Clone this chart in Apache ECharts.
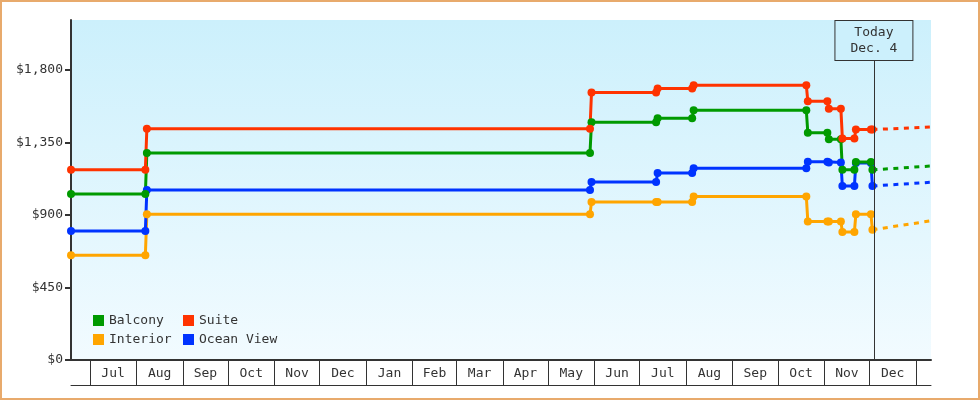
<!DOCTYPE html>
<html>
<head>
<meta charset="utf-8">
<script src="https://cdn.jsdelivr.net/npm/echarts@6/dist/echarts.min.js"></script>
<style>
html,body{margin:0;padding:0;background:#fff;}
#wrap{position:relative;width:980px;height:400px;}
#chart{width:980px;height:400px;}
#frame{position:absolute;left:0;top:0;width:980px;height:400px;box-sizing:border-box;border:2px solid #e8aa6c;pointer-events:none;}
</style>
</head>
<body>
<div id="wrap"><div id="chart"></div><div id="frame"></div></div>
<script>
// ---------- data ----------
const obsDates  = ['2023-06-18 12:00','2023-08-07','2023-08-08','2024-05-29','2024-05-30','2024-07-12','2024-07-13','2024-08-05','2024-08-06','2024-10-20','2024-10-21','2024-11-03','2024-11-04','2024-11-12','2024-11-13','2024-11-21','2024-11-22','2024-12-02','2024-12-03'];
const balcony   = [1030,1030,1285,1285,1475,1475,1500,1500,1550,1550,1410,1410,1370,1370,1180,1180,1228,1228,1180];
const suite     = [1180,1180,1435,1435,1660,1660,1685,1685,1705,1705,1605,1605,1560,1560,1375,1375,1430,1430,1430];
const interior  = [650,650,905,905,980,980,980,980,1015,1015,860,860,860,860,795,795,905,905,808];
const oceanView = [800,800,1055,1055,1105,1105,1160,1160,1190,1190,1230,1230,1225,1225,1080,1080,1222,1222,1080];

const projDate = '2025-01-11';
const projBalcony = 1204, projSuite = 1446, projInterior = 864, projOceanView = 1103;

const todayDate = '2024-12-04';
const todayLabel = 'Today\nDec. 4';

const monthNames = ['Jan','Feb','Mar','Apr','May','Jun','Jul','Aug','Sep','Oct','Nov','Dec'];
const yTicks = [0, 450, 900, 1350, 1800];
const xMin = '2023-06-18 12:00';
const xMax = '2025-01-11';
const yMax = 2110;

// ---------- helpers ----------
function ts(s){ const [d,t] = s.split(' '); const [y,m,dd] = d.split('-').map(Number); let h=0; if(t){h=Number(t.split(':')[0]);} return new Date(y,m-1,dd,h).getTime(); }
const xMinTs = ts(xMin), xMaxTs = ts(xMax);
const monthStarts = [], monthMids = [];
for (let i = 0; ; i++) {
  const t = new Date(2023, 6 + i, 1).getTime();
  if (t > xMaxTs) break;
  monthStarts.push(t);
  const n = new Date(2023, 7 + i, 1).getTime();
  if (n <= xMaxTs) monthMids.push((t + n) / 2);
}
const font = 'DejaVu Sans Mono';
const colors = {Balcony:'#009a00', Suite:'#ff3300', Interior:'#ffa500', 'Ocean View':'#0033ff'};

function mainSeries(name, vals){
  return {
    name, type:'line', data: obsDates.map((d,i)=>[ts(d), vals[i]]),
    symbol:'circle', symbolSize:8, showSymbol:true,
    lineStyle:{width:3, color:colors[name]}, itemStyle:{color:colors[name], borderWidth:0},
    emphasis:{disabled:true}, z:3
  };
}
function projSeries(name, vals, end){
  const last = vals.length-1;
  return {
    name: name + ' trend', type:'line',
    data: [[ts(obsDates[last]), vals[last]], [ts(projDate), end]],
    symbol:'none', lineStyle:{width:3, color:colors[name], type:[5,5.5]},
    emphasis:{disabled:true}, z:2
  };
}

const legendText = {fontSize:13, color:'#333', fontFamily:font};
const legendBase = {orient:'vertical', top:314, padding:0, itemWidth:11, itemHeight:11, itemGap:6, icon:'rect', textStyle:legendText, itemStyle:{borderWidth:0}};
const option = {
  animation:false,
  grid:{left:71, right:49, top:20, bottom:40, show:true, borderWidth:0,
    backgroundColor:{type:'linear', x:0, y:0, x2:0, y2:1, colorStops:[{offset:0,color:'#ccf0fc'},{offset:1,color:'#f2fbff'}]}},
  legend:[
    Object.assign({}, legendBase, {left:93, data:['Balcony','Interior']}),
    Object.assign({}, legendBase, {left:183, data:['Suite','Ocean View']})
  ],
  xAxis:[{
    type:'value', min:xMinTs, max:xMaxTs, scale:true,
    axisLine:{show:true, onZero:false, lineStyle:{color:'#333', width:2}},
    axisTick:{show:true, length:25, customValues:monthStarts, lineStyle:{color:'#333', width:1}},
    axisLabel:{customValues:monthMids, formatter:(v)=>monthNames[new Date(v).getMonth()], margin:7, fontSize:13, color:'#333', fontFamily:font, hideOverlap:false, showMinLabel:true, showMaxLabel:true},
    splitLine:{show:false}
  },{
    type:'value', min:xMinTs, max:xMaxTs, scale:true, position:'bottom', offset:25,
    axisLine:{show:true, onZero:false, lineStyle:{color:'#333', width:1}},
    axisTick:{show:false}, axisLabel:{show:false}, splitLine:{show:false}
  }],
  yAxis:{
    type:'value', min:0, max:yMax,
    splitLine:{show:false},
    axisLine:{show:true, lineStyle:{color:'#333', width:2}},
    axisTick:{show:true, length:6, customValues:yTicks, lineStyle:{color:'#333', width:2}},
    axisLabel:{customValues:yTicks, formatter:(v)=>'$'+v.toLocaleString('en-US'), margin:8, fontSize:13, color:'#333', fontFamily:font}
  },
  series:[
    projSeries('Interior', interior, projInterior),
    projSeries('Ocean View', oceanView, projOceanView),
    projSeries('Balcony', balcony, projBalcony),
    projSeries('Suite', suite, projSuite),
    mainSeries('Interior', interior),
    mainSeries('Ocean View', oceanView),
    mainSeries('Balcony', balcony),
    Object.assign(mainSeries('Suite', suite), {
      markLine:{
        silent:true, symbol:['none','none'], animation:false,
        lineStyle:{color:'#333', width:1, type:'solid'},
        label:{show:true, position:'end', distance:0, formatter:todayLabel, fontSize:13, lineHeight:16, color:'#333', fontFamily:font,
          backgroundColor:'#ccf0fc', borderColor:'#333', borderWidth:1, padding:[4,15,3,15], align:'center'},
        emphasis:{disabled:true},
        data:[[{coord:[ts(todayDate), 0]}, {coord:[ts(todayDate), yMax*300/340]}]]
      }
    })
  ]
};
const chart = echarts.init(document.getElementById('chart'), null, {renderer:'canvas'});
chart.setOption(option);
</script>
</body>
</html>
